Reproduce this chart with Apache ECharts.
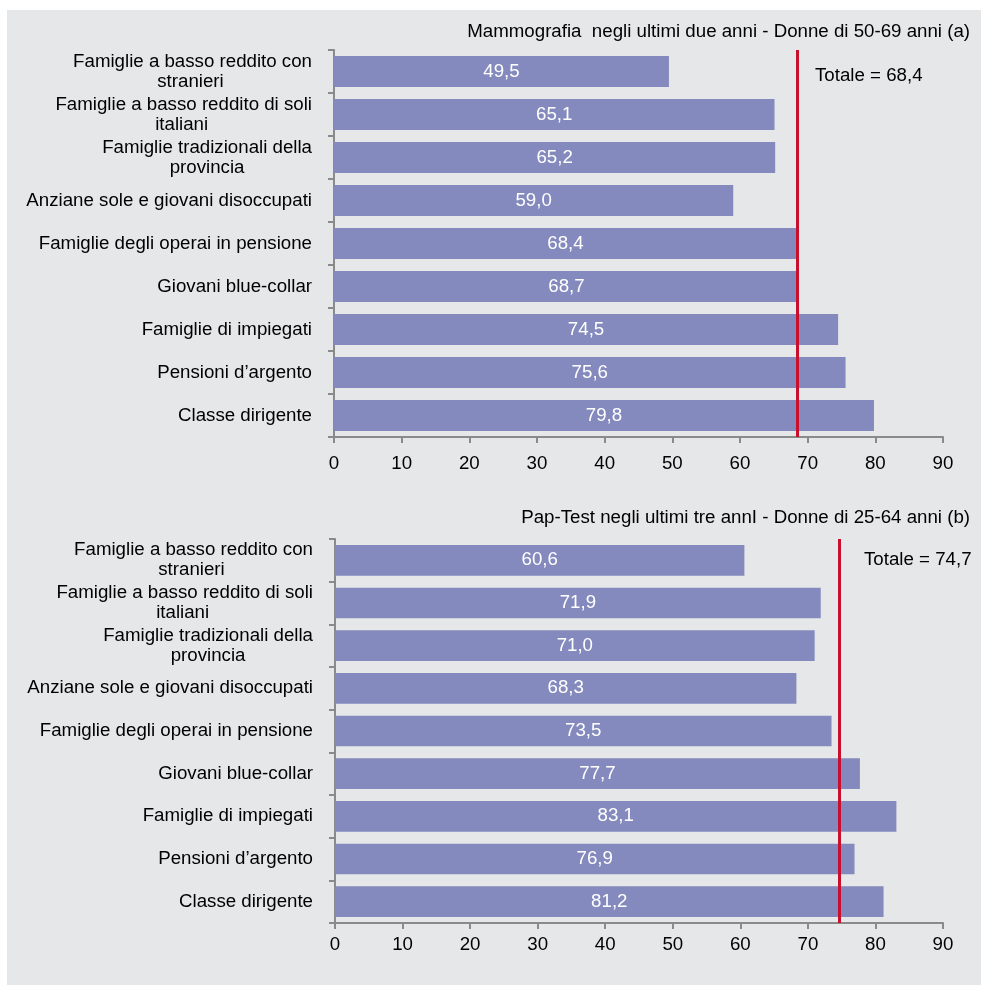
<!DOCTYPE html>
<html>
<head>
<meta charset="utf-8">
<script src="https://cdn.jsdelivr.net/npm/echarts@6/dist/echarts.min.js"></script>
<style>
  html, body { margin: 0; padding: 0; background: #ffffff; }
  #panel { position: absolute; left: 7px; top: 10px; width: 974px; height: 975px; background: #e6e7e9; }
  #chart { position: absolute; left: 0; top: 0; width: 981px; height: 985px; }
</style>
</head>
<body>
<div id="panel"></div>
<div id="chart"></div>
<script>
  // categorie (dall'alto verso il basso)
  const categories = [
    'Famiglie a basso reddito con\nstranieri',
    'Famiglie a basso reddito di soli\nitaliani',
    'Famiglie tradizionali della\nprovincia',
    'Anziane sole e giovani disoccupati',
    'Famiglie degli operai in pensione',
    'Giovani blue-collar',
    'Famiglie di impiegati',
    'Pensioni d\u2019argento',
    'Classe dirigente'
  ]
  const mammografia = [49.5, 65.1, 65.2, 59.0, 68.4, 68.7, 74.5, 75.6, 79.8]
  const papTest = [60.6, 71.9, 71.0, 68.3, 73.5, 77.7, 83.1, 76.9, 81.2]
  const totaleMammo = 68.4
  const totalePap = 74.7
  const titleA = 'Mammografia  negli ultimi due anni - Donne di 50-69 anni (a)'
  const titleB = 'Pap-Test negli ultimi tre annI - Donne di 25-64 anni (b)'
  const xTicks = { min: 0, max: 90, interval: 10 }

  const FONT = '"Liberation Sans", Arial, sans-serif'
  const FS = 18.7
  const fmt = v => v.toFixed(1).replace('.', ',')

  // etichette su due righe: la seconda riga viene centrata sotto la prima
  // aggiungendo spazi non separabili in coda (il blocco resta allineato a destra)
  const ctx = document.createElement('canvas').getContext('2d')
  ctx.font = FS + 'px ' + FONT
  const nbspW = ctx.measureText('\u00A0').width
  const catFormatter = value => {
    const lines = value.split('\n')
    if (lines.length < 2) return value
    const w0 = ctx.measureText(lines[0]).width
    return lines.map((l, i) => {
      if (i === 0) return l
      const n = Math.max(0, Math.round((w0 - ctx.measureText(l).width) / 2 / nbspW))
      return l + '\u00A0'.repeat(n)
    }).join('\n')
  }

  const chartDom = document.getElementById('chart')
  const myChart = echarts.init(chartDom, null, { renderer: 'canvas' })

  function xAxisFor(idx, margin) {
    return {
      type: 'value', gridIndex: idx,
      min: xTicks.min, max: xTicks.max, interval: xTicks.interval,
      splitLine: { show: false },
      axisLine: { show: true, lineStyle: { color: '#8a8a8a', width: 2 } },
      axisTick: { show: true, length: 6, lineStyle: { color: '#8a8a8a', width: 2 } },
      axisLabel: { color: '#000', fontSize: FS, fontFamily: FONT, margin: margin }
    }
  }
  function yAxisFor(idx) {
    return {
      type: 'category', gridIndex: idx, inverse: true,
      data: categories,
      axisLine: { show: true, lineStyle: { color: '#8a8a8a', width: 2 } },
      axisTick: { show: true, length: 6, lineStyle: { color: '#8a8a8a', width: 2 } },
      axisLabel: {
        color: '#000', fontSize: FS, fontFamily: FONT, margin: 22, align: 'right', lineHeight: 20,
        formatter: catFormatter
      }
    }
  }
  function barSeries(idx, data, total) {
    return {
      type: 'bar', xAxisIndex: idx, yAxisIndex: idx,
      data: data,
      barCategoryGap: '28%',
      itemStyle: { color: '#848abd' },
      label: {
        show: true, position: 'inside', color: '#fff',
        fontSize: FS, fontFamily: FONT,
        formatter: p => fmt(p.value)
      },
      markLine: {
        silent: true, symbol: 'none',
        lineStyle: { color: '#c8102e', width: 3, type: 'solid' },
        label: { show: false },
        data: [{ xAxis: total }]
      }
    }
  }

  const option = {
    animation: false,
    backgroundColor: 'transparent',
    title: [
      { text: titleA, right: 6, top: 17, textStyle: { color: '#000', fontSize: FS, fontWeight: 'normal', fontFamily: FONT } },
      { text: titleB, right: 6, top: 503, textStyle: { color: '#000', fontSize: FS, fontWeight: 'normal', fontFamily: FONT } }
    ],
    grid: [
      { left: 334, right: 38, top: 50, height: 387 },
      { left: 335, right: 38, top: 539, height: 384 }
    ],
    xAxis: [xAxisFor(0, 17), xAxisFor(1, 12)],
    yAxis: [yAxisFor(0), yAxisFor(1)],
    series: [barSeries(0, mammografia, totaleMammo), barSeries(1, papTest, totalePap)],
    graphic: [
      { type: 'text', left: 815, top: 66, style: { text: 'Totale = ' + fmt(totaleMammo), fill: '#000', font: FS + 'px ' + FONT } },
      { type: 'text', left: 864, top: 550, style: { text: 'Totale = ' + fmt(totalePap), fill: '#000', font: FS + 'px ' + FONT } }
    ]
  }

  option && myChart.setOption(option)
</script>
</body>
</html>
